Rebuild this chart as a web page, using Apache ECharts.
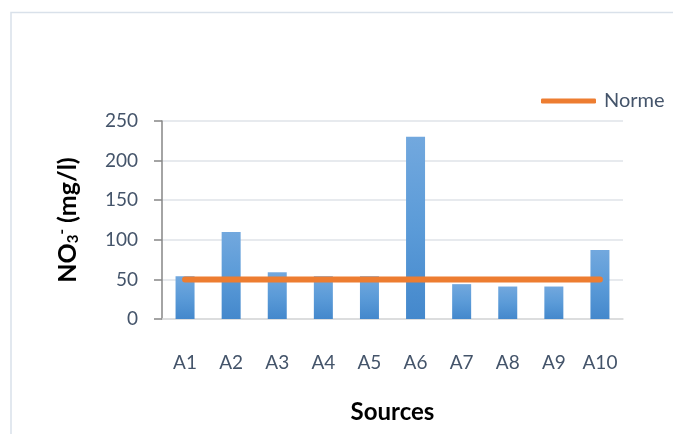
<!DOCTYPE html>
<html>
<head>
<meta charset="utf-8">
<script src="https://cdn.jsdelivr.net/npm/echarts@6/dist/echarts.min.js"></script>
<style>
html,body{margin:0;padding:0;background:#fff;}
#chart{width:673px;height:434px;}
</style>
</head>
<body>
<div id="chart"></div>
<script>
var categories = ['A1','A2','A3','A4','A5','A6','A7','A8','A9','A10'];
var no3Values = [54, 110, 59, 54, 54, 230, 44, 41, 41, 87];
var normeValues = [50, 50, 50, 50, 50, 50, 50, 50, 50, 50];
var yTicks = [0, 50, 100, 150, 200, 250];

var FONT = 'Lato';
var chart = echarts.init(document.getElementById('chart'));
chart.setOption({
  animation: false,
  backgroundColor: '#ffffff',
  graphic: [{
    type: 'rect',
    shape: {x: 11, y: 12.5, width: 700, height: 460},
    style: {fill: 'none', stroke: '#D9E1EA', lineWidth: 1.5},
    silent: true
  }],
  legend: {
    data: [{name: 'Norme', icon: 'roundRect'}],
    left: 536, top: 86,
    itemWidth: 55, itemHeight: 5, itemGap: 6,
    textStyle: {fontFamily: FONT, fontSize: 20, color: '#44546A', padding: [0,0,0,3]}
  },
  grid: {left: 162, right: 50, top: 121, bottom: 115},
  xAxis: {
    type: 'category',
    data: categories,
    boundaryGap: true,
    axisLine: {show: true, lineStyle: {color: '#D9D9D9', width: 1.5}},
    axisTick: {show: false},
    axisLabel: {fontFamily: FONT, fontSize: 19, color: '#44546A', margin: 34},
    name: 'Sources',
    nameLocation: 'middle',
    nameGap: 81,
    nameTextStyle: {fontFamily: FONT, fontSize: 24, fontWeight: 'bold', color: '#000'}
  },
  yAxis: {
    type: 'value',
    min: yTicks[0], max: yTicks[yTicks.length - 1], interval: 50,
    axisLine: {show: true, lineStyle: {color: '#868686', width: 1.5}},
    axisTick: {show: true, length: 8, lineStyle: {color: '#868686', width: 1.5}},
    axisLabel: {fontFamily: FONT, fontSize: 19, color: '#44546A', margin: 24},
    splitLine: {show: true, lineStyle: {color: '#DFE3E8', width: 1.5}},
    name: '{m|NO}{sub|3}{sup|-}{m| (mg/l)}',
    nameLocation: 'middle',
    nameGap: 81,
    nameRotate: 90,
    nameTextStyle: {
      fontFamily: FONT, fontSize: 25, fontWeight: 'bold', color: '#000',
      rich: {
        m: {fontFamily: FONT, fontSize: 25, fontWeight: 'bold', color: '#000'},
        sub: {fontFamily: FONT, fontSize: 15, fontWeight: 'bold', color: '#000', verticalAlign: 'bottom', padding: [11,0,0,0]},
        sup: {fontFamily: FONT, fontSize: 15, fontWeight: 'bold', color: '#000', verticalAlign: 'top', padding: [0,0,11,0]}
      }
    }
  },
  series: [{
    name: 'NO3',
    type: 'bar',
    data: no3Values,
    barWidth: 19,
    itemStyle: {
      color: new echarts.graphic.LinearGradient(0, 0, 0, 1, [
        {offset: 0, color: '#72A8DE'},
        {offset: 0.5, color: '#5B9BD8'},
        {offset: 1, color: '#4488CC'}
      ])
    },
    z: 2
  }, {
    name: 'Norme',
    type: 'line',
    data: normeValues,
    symbol: 'none',
    lineStyle: {color: '#ED7D31', width: 6, cap: 'round'},
    itemStyle: {color: '#ED7D31'},
    z: 3
  }]
});
</script>
</body>
</html>
